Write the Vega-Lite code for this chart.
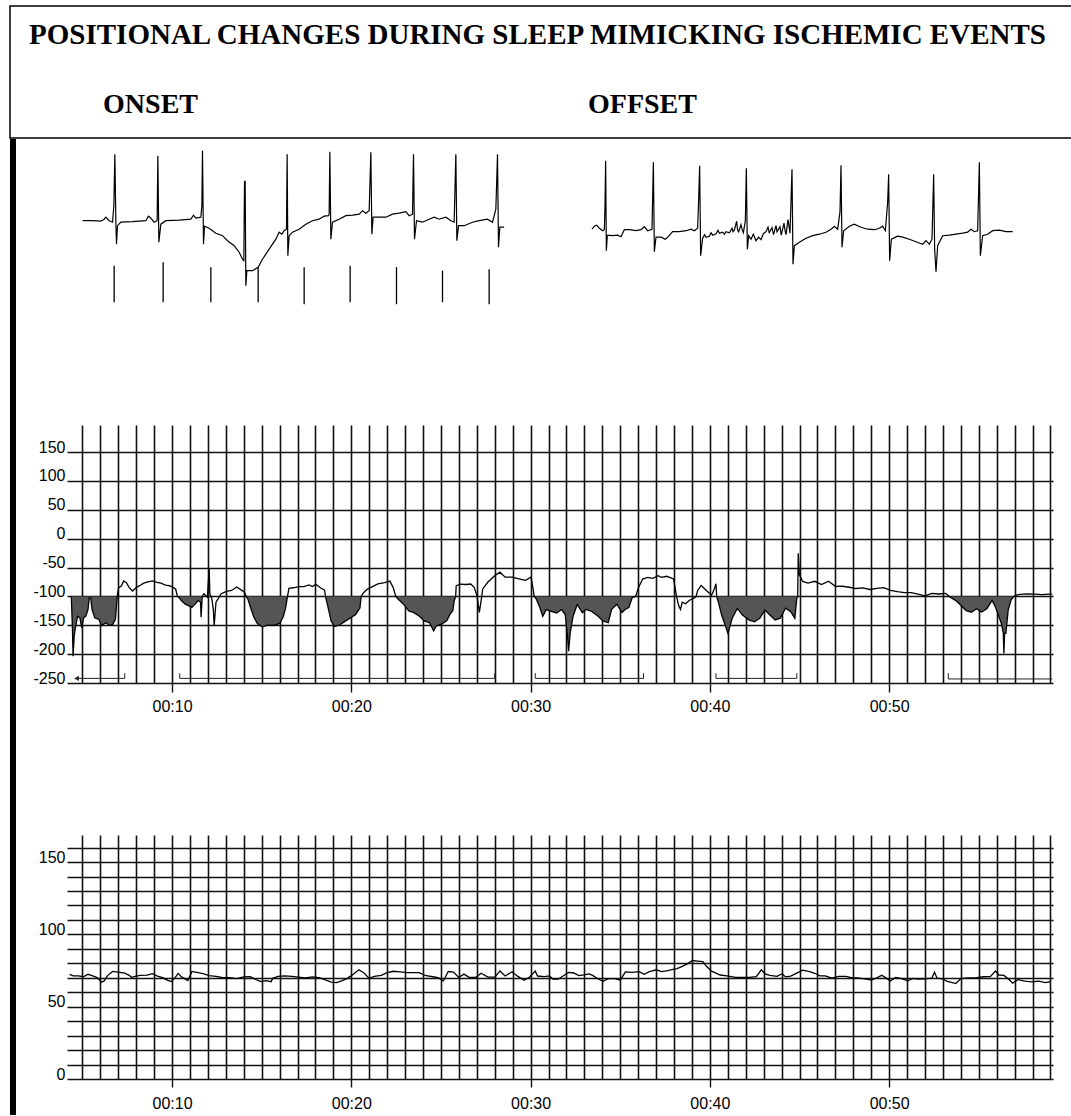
{
  "$schema": "https://vega.github.io/schema/vega-lite/v6.json",
  "padding": {"left": 9, "top": 5, "right": 0, "bottom": 0},
  "autosize": {"type": "pad"},
  "background": "white",
  "config": {"view": {"stroke": null}, "font": "Liberation Sans"},
  "datasets": {
    "header": [
      {"label": "POSITIONAL CHANGES DURING SLEEP MIMICKING ISCHEMIC EVENTS", "role": "title"},
      {"label": "ONSET", "role": "phase"},
      {"label": "OFFSET", "role": "phase"}
    ],
    "frame": [{"part": "left border"}],
    "ecgOnset": [
      {"t": 0.000, "mV": 0.00}, {"t": 0.200, "mV": 0.00}, {"t": 0.367, "mV": -0.01}, {"t": 0.433, "mV": 0.03}, {"t": 0.467, "mV": 0.07},
      {"t": 0.533, "mV": 0.00}, {"t": 0.600, "mV": -0.03}, {"t": 0.627, "mV": 0.30}, {"t": 0.647, "mV": 1.33}, {"t": 0.667, "mV": -0.03},
      {"t": 0.680, "mV": -0.47}, {"t": 0.700, "mV": -0.10}, {"t": 0.767, "mV": -0.03}, {"t": 1.000, "mV": -0.02}, {"t": 1.267, "mV": 0.00},
      {"t": 1.320, "mV": 0.09}, {"t": 1.367, "mV": 0.05}, {"t": 1.433, "mV": -0.03}, {"t": 1.493, "mV": 0.00}, {"t": 1.507, "mV": 1.30},
      {"t": 1.527, "mV": -0.43}, {"t": 1.567, "mV": -0.07}, {"t": 1.667, "mV": 0.00}, {"t": 1.933, "mV": 0.01}, {"t": 2.167, "mV": 0.03},
      {"t": 2.220, "mV": 0.11}, {"t": 2.267, "mV": 0.05}, {"t": 2.367, "mV": 0.07}, {"t": 2.387, "mV": 0.30}, {"t": 2.400, "mV": 1.40},
      {"t": 2.420, "mV": -0.47}, {"t": 2.440, "mV": -0.11}, {"t": 2.533, "mV": -0.15}, {"t": 2.667, "mV": -0.25}, {"t": 2.800, "mV": -0.30},
      {"t": 2.900, "mV": -0.40}, {"t": 3.033, "mV": -0.50}, {"t": 3.133, "mV": -0.63}, {"t": 3.200, "mV": -0.77}, {"t": 3.227, "mV": -0.80},
      {"t": 3.240, "mV": 0.77}, {"t": 3.253, "mV": 0.80}, {"t": 3.267, "mV": -1.30}, {"t": 3.287, "mV": -1.00}, {"t": 3.400, "mV": -1.00},
      {"t": 3.513, "mV": -0.93}, {"t": 3.600, "mV": -0.77}, {"t": 3.733, "mV": -0.57}, {"t": 3.867, "mV": -0.37}, {"t": 3.933, "mV": -0.23},
      {"t": 3.987, "mV": -0.27}, {"t": 4.033, "mV": -0.20}, {"t": 4.080, "mV": -0.17}, {"t": 4.093, "mV": 1.33}, {"t": 4.107, "mV": -0.70},
      {"t": 4.133, "mV": -0.30}, {"t": 4.200, "mV": -0.23}, {"t": 4.333, "mV": -0.17}, {"t": 4.467, "mV": -0.07}, {"t": 4.600, "mV": 0.00},
      {"t": 4.733, "mV": 0.03}, {"t": 4.833, "mV": 0.09}, {"t": 4.920, "mV": 0.10}, {"t": 4.933, "mV": 0.13}, {"t": 4.947, "mV": 1.38},
      {"t": 4.967, "mV": -0.37}, {"t": 5.000, "mV": -0.03}, {"t": 5.133, "mV": 0.03}, {"t": 5.267, "mV": 0.10}, {"t": 5.400, "mV": 0.11},
      {"t": 5.533, "mV": 0.13}, {"t": 5.600, "mV": 0.20}, {"t": 5.667, "mV": 0.15}, {"t": 5.733, "mV": 0.20}, {"t": 5.767, "mV": 1.37},
      {"t": 5.787, "mV": -0.27}, {"t": 5.813, "mV": 0.07}, {"t": 5.933, "mV": 0.07}, {"t": 6.067, "mV": 0.07}, {"t": 6.200, "mV": 0.13},
      {"t": 6.333, "mV": 0.15}, {"t": 6.467, "mV": 0.18}, {"t": 6.533, "mV": 0.10}, {"t": 6.600, "mV": 0.13}, {"t": 6.620, "mV": 1.33},
      {"t": 6.640, "mV": -0.37}, {"t": 6.680, "mV": 0.00}, {"t": 6.800, "mV": -0.03}, {"t": 6.933, "mV": 0.03}, {"t": 7.033, "mV": 0.07},
      {"t": 7.133, "mV": 0.03}, {"t": 7.267, "mV": 0.07}, {"t": 7.367, "mV": 0.00}, {"t": 7.433, "mV": -0.03}, {"t": 7.467, "mV": 1.33},
      {"t": 7.487, "mV": -0.40}, {"t": 7.520, "mV": -0.10}, {"t": 7.633, "mV": -0.10}, {"t": 7.800, "mV": -0.03}, {"t": 7.933, "mV": 0.00},
      {"t": 8.100, "mV": 0.03}, {"t": 8.200, "mV": -0.03}, {"t": 8.267, "mV": 0.23}, {"t": 8.300, "mV": 1.33}, {"t": 8.320, "mV": -0.53},
      {"t": 8.347, "mV": -0.13}, {"t": 8.433, "mV": -0.13}
    ],
    "markers": [
      {"t": 0.633, "top": -0.90, "bottom": -1.63}, {"t": 1.613, "top": -0.83, "bottom": -1.63}, {"t": 2.567, "top": -0.93, "bottom": -1.63},
      {"t": 3.513, "top": -0.93, "bottom": -1.63}, {"t": 4.433, "top": -0.93, "bottom": -1.67}, {"t": 5.353, "top": -0.90, "bottom": -1.63},
      {"t": 6.280, "top": -0.93, "bottom": -1.67}, {"t": 7.200, "top": -1.00, "bottom": -1.63}, {"t": 8.133, "top": -0.97, "bottom": -1.67}
    ],
    "ecgOffset": [
      {"t": 0.000, "mV": 0.03}, {"t": 0.047, "mV": 0.09}, {"t": 0.093, "mV": 0.11}, {"t": 0.147, "mV": 0.05}, {"t": 0.213, "mV": 0.00},
      {"t": 0.247, "mV": 0.02}, {"t": 0.260, "mV": 0.50}, {"t": 0.273, "mV": 1.40}, {"t": 0.287, "mV": -0.40}, {"t": 0.307, "mV": -0.09},
      {"t": 0.413, "mV": -0.10}, {"t": 0.513, "mV": -0.09}, {"t": 0.580, "mV": -0.12}, {"t": 0.647, "mV": 0.02}, {"t": 0.747, "mV": 0.02},
      {"t": 0.880, "mV": 0.00}, {"t": 0.980, "mV": 0.02}, {"t": 1.047, "mV": 0.08}, {"t": 1.113, "mV": 0.00}, {"t": 1.200, "mV": 0.03},
      {"t": 1.227, "mV": 1.37}, {"t": 1.247, "mV": -0.42}, {"t": 1.280, "mV": -0.13}, {"t": 1.380, "mV": -0.13}, {"t": 1.467, "mV": -0.17},
      {"t": 1.533, "mV": -0.11}, {"t": 1.613, "mV": -0.02}, {"t": 1.747, "mV": -0.02}, {"t": 1.880, "mV": 0.00}, {"t": 1.980, "mV": 0.03},
      {"t": 2.047, "mV": 0.00}, {"t": 2.113, "mV": 0.05}, {"t": 2.133, "mV": 0.63}, {"t": 2.153, "mV": 1.30}, {"t": 2.173, "mV": -0.50},
      {"t": 2.213, "mV": -0.15}, {"t": 2.250, "mV": -0.08}, {"t": 2.280, "mV": -0.13}, {"t": 2.347, "mV": -0.11}, {"t": 2.380, "mV": -0.04},
      {"t": 2.413, "mV": -0.09}, {"t": 2.480, "mV": -0.06}, {"t": 2.520, "mV": 0.01}, {"t": 2.547, "mV": -0.05}, {"t": 2.613, "mV": -0.03},
      {"t": 2.650, "mV": -0.07}, {"t": 2.680, "mV": -0.02}, {"t": 2.747, "mV": -0.04}, {"t": 2.800, "mV": 0.05}, {"t": 2.820, "mV": -0.02},
      {"t": 2.847, "mV": 0.01}, {"t": 2.893, "mV": 0.19}, {"t": 2.910, "mV": 0.02}, {"t": 2.933, "mV": -0.02}, {"t": 2.980, "mV": 0.12},
      {"t": 3.000, "mV": 0.03}, {"t": 3.027, "mV": -0.04}, {"t": 3.067, "mV": 0.20}, {"t": 3.087, "mV": 1.25}, {"t": 3.107, "mV": -0.37},
      {"t": 3.133, "mV": -0.10}, {"t": 3.180, "mV": -0.17}, {"t": 3.227, "mV": -0.07}, {"t": 3.280, "mV": -0.20}, {"t": 3.333, "mV": -0.13},
      {"t": 3.380, "mV": -0.18}, {"t": 3.427, "mV": -0.06}, {"t": 3.480, "mV": -0.02}, {"t": 3.520, "mV": 0.07}, {"t": 3.545, "mV": -0.04},
      {"t": 3.600, "mV": 0.06}, {"t": 3.630, "mV": -0.08}, {"t": 3.680, "mV": 0.10}, {"t": 3.700, "mV": -0.02}, {"t": 3.760, "mV": 0.08},
      {"t": 3.785, "mV": -0.09}, {"t": 3.840, "mV": 0.15}, {"t": 3.860, "mV": 0.01}, {"t": 3.880, "mV": -0.08}, {"t": 3.920, "mV": 0.22},
      {"t": 3.960, "mV": -0.05}, {"t": 4.000, "mV": 1.23}, {"t": 4.020, "mV": -0.67},
      {"t": 4.047, "mV": -0.30}, {"t": 4.147, "mV": -0.23}, {"t": 4.280, "mV": -0.15}, {"t": 4.413, "mV": -0.10}, {"t": 4.547, "mV": -0.07},
      {"t": 4.680, "mV": -0.03}, {"t": 4.780, "mV": 0.03}, {"t": 4.847, "mV": 0.09}, {"t": 4.913, "mV": 0.03}, {"t": 4.960, "mV": 0.37},
      {"t": 4.980, "mV": 1.31}, {"t": 5.000, "mV": -0.33}, {"t": 5.033, "mV": 0.00}, {"t": 5.147, "mV": 0.09}, {"t": 5.247, "mV": 0.13},
      {"t": 5.380, "mV": 0.07}, {"t": 5.513, "mV": 0.03}, {"t": 5.647, "mV": 0.02}, {"t": 5.747, "mV": 0.05}, {"t": 5.813, "mV": 0.09},
      {"t": 5.867, "mV": 0.00}, {"t": 5.913, "mV": 0.57}, {"t": 5.933, "mV": 1.13}, {"t": 5.953, "mV": -0.60}, {"t": 5.987, "mV": -0.17},
      {"t": 6.113, "mV": -0.11}, {"t": 6.213, "mV": -0.13}, {"t": 6.347, "mV": -0.17}, {"t": 6.480, "mV": -0.22}, {"t": 6.613, "mV": -0.27},
      {"t": 6.680, "mV": -0.20}, {"t": 6.747, "mV": -0.27}, {"t": 6.800, "mV": -0.17}, {"t": 6.833, "mV": 1.13}, {"t": 6.853, "mV": -0.37},
      {"t": 6.880, "mV": -0.82}, {"t": 6.913, "mV": -0.30}, {"t": 7.013, "mV": -0.10}, {"t": 7.147, "mV": -0.09}, {"t": 7.280, "mV": -0.07},
      {"t": 7.413, "mV": -0.05}, {"t": 7.513, "mV": -0.03}, {"t": 7.580, "mV": 0.03}, {"t": 7.647, "mV": -0.02}, {"t": 7.713, "mV": 0.00},
      {"t": 7.747, "mV": 1.37}, {"t": 7.767, "mV": -0.50}, {"t": 7.813, "mV": -0.10}, {"t": 7.913, "mV": -0.07}, {"t": 8.013, "mV": 0.00},
      {"t": 8.147, "mV": 0.01}, {"t": 8.280, "mV": -0.02}, {"t": 8.413, "mV": -0.02}
    ],
    "st": [
      {"m": 4.38, "v": -100, "episode": 1}, {"m": 4.44, "v": -151.8, "episode": 1}, {"m": 4.48, "v": -203.7, "episode": 1}, {"m": 4.54, "v": -169.0, "episode": 1},
      {"m": 4.62, "v": -151.7, "episode": 1}, {"m": 4.73, "v": -134.4, "episode": 1}, {"m": 4.86, "v": -137.3, "episode": 1}, {"m": 4.96, "v": -154.6, "episode": 1},
      {"m": 5.06, "v": -137.3, "episode": 1}, {"m": 5.19, "v": -134.3, "episode": 1}, {"m": 5.31, "v": -122.7, "episode": 1}, {"m": 5.38, "v": -102.5, "episode": 1},
      {"m": 5.46, "v": -102.5, "episode": 1}, {"m": 5.54, "v": -122.7, "episode": 1}, {"m": 5.69, "v": -137.1, "episode": 1}, {"m": 5.92, "v": -139.9, "episode": 1},
      {"m": 6.07, "v": -150.3, "episode": 1}, {"m": 6.31, "v": -145.6, "episode": 1}, {"m": 6.50, "v": -150.2, "episode": 1}, {"m": 6.69, "v": -148.5, "episode": 1},
      {"m": 6.84, "v": -139.7, "episode": 1}, {"m": 6.94, "v": -100, "episode": 1},
      {"m": 7.02, "v": -84.9}, {"m": 7.17, "v": -82.0}, {"m": 7.30, "v": -73.3}, {"m": 7.46, "v": -76.1}, {"m": 7.61, "v": -84.8}, {"m": 7.80, "v": -90.6},
      {"m": 8.00, "v": -84.7}, {"m": 8.23, "v": -80.7}, {"m": 8.42, "v": -77.1}, {"m": 8.65, "v": -74.8}, {"m": 8.90, "v": -73.1}, {"m": 9.15, "v": -75.8},
      {"m": 9.38, "v": -77.0}, {"m": 9.63, "v": -80.4}, {"m": 9.86, "v": -81.5}, {"m": 10.05, "v": -84.4}, {"m": 10.20, "v": -87.2},
      {"m": 10.30, "v": -100, "episode": 2}, {"m": 10.38, "v": -101.6, "episode": 2}, {"m": 10.53, "v": -107.4, "episode": 2}, {"m": 10.72, "v": -113.0, "episode": 2},
      {"m": 10.91, "v": -115.9, "episode": 2}, {"m": 11.11, "v": -118.7, "episode": 2}, {"m": 11.30, "v": -112.9, "episode": 2}, {"m": 11.45, "v": -107.2, "episode": 2},
      {"m": 11.59, "v": -110.1, "episode": 2}, {"m": 11.62, "v": -136.1, "episode": 2}, {"m": 11.68, "v": -100, "episode": 2},
      {"m": 11.78, "v": -95.5}, {"m": 11.87, "v": -98.4}, {"m": 11.97, "v": -101.3}, {"m": 12.07, "v": -52.3}, {"m": 12.11, "v": -95.5}, {"m": 12.22, "v": -104.2},
      {"m": 12.30, "v": -121.5}, {"m": 12.35, "v": -150.3}, {"m": 12.45, "v": -109.9}, {"m": 12.57, "v": -104.1}, {"m": 12.74, "v": -95.4}, {"m": 13.03, "v": -91.3},
      {"m": 13.32, "v": -89.6}, {"m": 13.60, "v": -83.7}, {"m": 13.89, "v": -89.5}, {"m": 14.03, "v": -92.3},
      {"m": 14.14, "v": -100, "episode": 3}, {"m": 14.22, "v": -103.8, "episode": 3}, {"m": 14.37, "v": -118.2, "episode": 3}, {"m": 14.56, "v": -135.5, "episode": 3},
      {"m": 14.76, "v": -147.0, "episode": 3}, {"m": 15.04, "v": -152.8, "episode": 3}, {"m": 15.33, "v": -149.8, "episode": 3}, {"m": 15.72, "v": -149.7, "episode": 3},
      {"m": 16.00, "v": -146.8, "episode": 3}, {"m": 16.20, "v": -135.2, "episode": 3}, {"m": 16.33, "v": -120.7, "episode": 3}, {"m": 16.44, "v": -100, "episode": 3},
      {"m": 16.52, "v": -86.1}, {"m": 16.77, "v": -85.0}, {"m": 17.06, "v": -83.1}, {"m": 17.35, "v": -83.0}, {"m": 17.64, "v": -80.1}, {"m": 17.83, "v": -82.9},
      {"m": 18.02, "v": -78.9}, {"m": 18.31, "v": -85.8}, {"m": 18.50, "v": -88.6},
      {"m": 18.56, "v": -100, "episode": 4}, {"m": 18.69, "v": -117.4, "episode": 4}, {"m": 18.88, "v": -143.4, "episode": 4}, {"m": 19.08, "v": -152.0, "episode": 4},
      {"m": 19.36, "v": -149.1, "episode": 4}, {"m": 19.65, "v": -143.2, "episode": 4}, {"m": 19.94, "v": -137.4, "episode": 4}, {"m": 20.23, "v": -131.6, "episode": 4},
      {"m": 20.48, "v": -120.0, "episode": 4}, {"m": 20.55, "v": -100, "episode": 4},
      {"m": 20.67, "v": -94.0}, {"m": 20.86, "v": -88.2}, {"m": 21.09, "v": -84.3}, {"m": 21.48, "v": -78.3}, {"m": 21.86, "v": -76.1}, {"m": 22.15, "v": -73.5},
      {"m": 22.34, "v": -85.0},
      {"m": 22.48, "v": -100, "episode": 5}, {"m": 22.63, "v": -105.2, "episode": 5}, {"m": 22.92, "v": -113.7, "episode": 5}, {"m": 23.21, "v": -125.3, "episode": 5},
      {"m": 23.49, "v": -128.1, "episode": 5}, {"m": 23.78, "v": -133.9, "episode": 5}, {"m": 24.07, "v": -142.4, "episode": 5}, {"m": 24.36, "v": -145.3, "episode": 5},
      {"m": 24.59, "v": -159.6, "episode": 5}, {"m": 24.74, "v": -151.0, "episode": 5}, {"m": 25.03, "v": -148.1, "episode": 5}, {"m": 25.32, "v": -142.2, "episode": 5},
      {"m": 25.51, "v": -130.7, "episode": 5}, {"m": 25.66, "v": -124.8, "episode": 5}, {"m": 25.74, "v": -107.5, "episode": 5}, {"m": 25.82, "v": -100, "episode": 5},
      {"m": 25.85, "v": -81.5}, {"m": 26.09, "v": -78.6}, {"m": 26.37, "v": -79.3}, {"m": 26.66, "v": -78.5}, {"m": 26.85, "v": -84.2}, {"m": 27.01, "v": -98.6},
      {"m": 27.14, "v": -127.5}, {"m": 27.24, "v": -107.3}, {"m": 27.33, "v": -87.0}, {"m": 27.62, "v": -75.1}, {"m": 28.01, "v": -63.8}, {"m": 28.29, "v": -58.0},
      {"m": 28.58, "v": -66.6}, {"m": 28.97, "v": -66.5}, {"m": 29.35, "v": -69.4}, {"m": 29.73, "v": -72.1}, {"m": 30.02, "v": -66.4}, {"m": 30.12, "v": -83.6},
      {"m": 30.20, "v": -100, "episode": 6}, {"m": 30.29, "v": -102.8, "episode": 6}, {"m": 30.49, "v": -117.2, "episode": 6}, {"m": 30.68, "v": -134.6, "episode": 6},
      {"m": 30.87, "v": -122.9, "episode": 6}, {"m": 31.16, "v": -125.8, "episode": 6}, {"m": 31.45, "v": -128.6, "episode": 6}, {"m": 31.73, "v": -122.8, "episode": 6},
      {"m": 31.93, "v": -131.4, "episode": 6}, {"m": 32.06, "v": -168.9, "episode": 6}, {"m": 32.12, "v": -194.9, "episode": 6}, {"m": 32.21, "v": -163.1, "episode": 6},
      {"m": 32.37, "v": -134.3, "episode": 6}, {"m": 32.60, "v": -113.9, "episode": 6}, {"m": 32.89, "v": -128.4, "episode": 6}, {"m": 33.08, "v": -122.5, "episode": 6},
      {"m": 33.37, "v": -125.4, "episode": 6}, {"m": 33.75, "v": -134.0, "episode": 6}, {"m": 34.04, "v": -142.6, "episode": 6}, {"m": 34.33, "v": -145.4, "episode": 6},
      {"m": 34.52, "v": -122.3, "episode": 6}, {"m": 34.81, "v": -113.5, "episode": 6}, {"m": 35.10, "v": -128.0, "episode": 6}, {"m": 35.29, "v": -122.1, "episode": 6},
      {"m": 35.48, "v": -119.2, "episode": 6}, {"m": 35.67, "v": -101.9, "episode": 6}, {"m": 35.86, "v": -100, "episode": 6},
      {"m": 36.02, "v": -84.5}, {"m": 36.25, "v": -70.0}, {"m": 36.54, "v": -67.1}, {"m": 36.82, "v": -68.8}, {"m": 37.11, "v": -64.1}, {"m": 37.30, "v": -67.0},
      {"m": 37.59, "v": -65.1}, {"m": 37.98, "v": -69.6}, {"m": 38.13, "v": -98.5}, {"m": 38.26, "v": -115.8}, {"m": 38.36, "v": -122.8}, {"m": 38.46, "v": -110.1},
      {"m": 38.65, "v": -112.8}, {"m": 38.84, "v": -107.1}, {"m": 39.03, "v": -104.2}, {"m": 39.22, "v": -101.2}, {"m": 39.32, "v": -89.7}, {"m": 39.51, "v": -81.0},
      {"m": 39.70, "v": -86.7}, {"m": 39.90, "v": -92.5}, {"m": 40.09, "v": -98.2}, {"m": 40.22, "v": -89.5}, {"m": 40.34, "v": -77.9},
      {"m": 40.38, "v": -100, "episode": 7}, {"m": 40.47, "v": -109.6, "episode": 7}, {"m": 40.66, "v": -132.7, "episode": 7}, {"m": 40.86, "v": -150.0, "episode": 7},
      {"m": 41.01, "v": -164.3, "episode": 7}, {"m": 41.24, "v": -138.2, "episode": 7}, {"m": 41.53, "v": -120.8, "episode": 7}, {"m": 41.82, "v": -132.4, "episode": 7},
      {"m": 42.20, "v": -141.1, "episode": 7}, {"m": 42.49, "v": -143.9, "episode": 7}, {"m": 42.78, "v": -138.0, "episode": 7}, {"m": 43.07, "v": -123.5, "episode": 7},
      {"m": 43.35, "v": -132.2, "episode": 7}, {"m": 43.64, "v": -140.8, "episode": 7}, {"m": 43.93, "v": -137.8, "episode": 7}, {"m": 44.22, "v": -120.5, "episode": 7},
      {"m": 44.51, "v": -126.3, "episode": 7}, {"m": 44.74, "v": -137.7, "episode": 7}, {"m": 44.85, "v": -103.1, "episode": 7}, {"m": 44.90, "v": -100, "episode": 7},
      {"m": 44.93, "v": -25.1}, {"m": 44.99, "v": -62.7}, {"m": 45.18, "v": -74.1}, {"m": 45.47, "v": -76.8}, {"m": 45.85, "v": -73.8}, {"m": 46.23, "v": -79.6},
      {"m": 46.62, "v": -73.7}, {"m": 47.00, "v": -82.5}, {"m": 47.39, "v": -82.4}, {"m": 47.77, "v": -84.1}, {"m": 48.15, "v": -86.3}, {"m": 48.54, "v": -85.1},
      {"m": 48.92, "v": -88.0}, {"m": 49.31, "v": -86.1}, {"m": 49.69, "v": -84.9}, {"m": 50.08, "v": -89.5}, {"m": 50.46, "v": -91.7}, {"m": 50.84, "v": -93.3},
      {"m": 51.23, "v": -93.3}, {"m": 51.61, "v": -96.1}, {"m": 52.00, "v": -98.9}, {"m": 52.38, "v": -94.8}, {"m": 52.76, "v": -95.8}, {"m": 53.15, "v": -94.7},
      {"m": 53.35, "v": -100, "episode": 8}, {"m": 53.72, "v": -107.3, "episode": 8}, {"m": 54.01, "v": -115.8, "episode": 8}, {"m": 54.30, "v": -124.5, "episode": 8},
      {"m": 54.59, "v": -127.3, "episode": 8}, {"m": 54.88, "v": -121.4, "episode": 8}, {"m": 55.16, "v": -127.1, "episode": 8}, {"m": 55.45, "v": -121.3, "episode": 8},
      {"m": 55.74, "v": -106.8, "episode": 8}, {"m": 55.93, "v": -118.2, "episode": 8}, {"m": 56.13, "v": -135.4, "episode": 8}, {"m": 56.26, "v": -146.9, "episode": 8},
      {"m": 56.37, "v": -164.2, "episode": 8}, {"m": 56.40, "v": -198.8, "episode": 8}, {"m": 56.44, "v": -164.0, "episode": 8}, {"m": 56.51, "v": -164.1, "episode": 8},
      {"m": 56.64, "v": -123.7, "episode": 8}, {"m": 56.80, "v": -106.4, "episode": 8}, {"m": 56.95, "v": -100, "episode": 8},
      {"m": 57.18, "v": -97.0}, {"m": 57.47, "v": -96.0}, {"m": 57.76, "v": -95.5}, {"m": 58.14, "v": -96.0}, {"m": 58.53, "v": -97.0}, {"m": 58.91, "v": -96.0},
      {"m": 59.10, "v": -96.0}
    ],
    "brackets": [
      {"b": 1, "step": 0, "m": 4.67, "v": -242}, {"b": 1, "step": 1, "m": 7.36, "v": -242}, {"b": 1, "step": 2, "m": 7.36, "v": -233},
      {"b": 2, "step": 0, "m": 10.43, "v": -233}, {"b": 2, "step": 1, "m": 10.43, "v": -242}, {"b": 2, "step": 2, "m": 28.0, "v": -242}, {"b": 2, "step": 3, "m": 28.0, "v": -233},
      {"b": 3, "step": 0, "m": 30.26, "v": -233}, {"b": 3, "step": 1, "m": 30.26, "v": -242}, {"b": 3, "step": 2, "m": 36.3, "v": -242}, {"b": 3, "step": 3, "m": 36.3, "v": -233},
      {"b": 4, "step": 0, "m": 40.34, "v": -233}, {"b": 4, "step": 1, "m": 40.34, "v": -242}, {"b": 4, "step": 2, "m": 44.85, "v": -242}, {"b": 4, "step": 3, "m": 44.85, "v": -233},
      {"b": 5, "step": 0, "m": 53.3, "v": -233}, {"b": 5, "step": 1, "m": 53.3, "v": -243}, {"b": 5, "step": 2, "m": 59.1, "v": -243}
    ],
    "hr": [
      {"m": 4.29, "bpm": 72.3}, {"m": 4.48, "bpm": 71.3}, {"m": 4.77, "bpm": 71.3}, {"m": 5.06, "bpm": 70.7}, {"m": 5.31, "bpm": 72.4}, {"m": 5.54, "bpm": 71.4},
      {"m": 5.82, "bpm": 70.1}, {"m": 6.07, "bpm": 66.9}, {"m": 6.21, "bpm": 67.8}, {"m": 6.40, "bpm": 71.5}, {"m": 6.69, "bpm": 74.4}, {"m": 6.98, "bpm": 73.9},
      {"m": 7.36, "bpm": 73.2}, {"m": 7.61, "bpm": 71.7}, {"m": 7.74, "bpm": 70.3}, {"m": 7.94, "bpm": 71.0}, {"m": 8.22, "bpm": 71.7}, {"m": 8.61, "bpm": 71.8},
      {"m": 8.90, "bpm": 72.8}, {"m": 9.19, "bpm": 71.2}, {"m": 9.47, "bpm": 70.1}, {"m": 9.76, "bpm": 68.2}, {"m": 9.95, "bpm": 67.4}, {"m": 10.15, "bpm": 69.7},
      {"m": 10.34, "bpm": 73.0}, {"m": 10.53, "bpm": 70.6}, {"m": 10.88, "bpm": 68.0}, {"m": 11.11, "bpm": 74.4}, {"m": 11.39, "bpm": 73.7}, {"m": 11.78, "bpm": 72.7},
      {"m": 12.07, "bpm": 71.5}, {"m": 12.45, "bpm": 70.9}, {"m": 12.83, "bpm": 70.0}, {"m": 13.22, "bpm": 70.1}, {"m": 13.60, "bpm": 69.4}, {"m": 13.99, "bpm": 70.6},
      {"m": 14.37, "bpm": 70.7}, {"m": 14.66, "bpm": 68.8}, {"m": 14.95, "bpm": 67.3}, {"m": 15.24, "bpm": 68.0}, {"m": 15.52, "bpm": 67.3}, {"m": 15.62, "bpm": 69.6},
      {"m": 15.91, "bpm": 70.9}, {"m": 16.29, "bpm": 71.3}, {"m": 16.68, "bpm": 71.0}, {"m": 17.06, "bpm": 70.5}, {"m": 17.44, "bpm": 69.9}, {"m": 17.83, "bpm": 70.6},
      {"m": 18.21, "bpm": 70.0}, {"m": 18.59, "bpm": 68.4}, {"m": 18.88, "bpm": 67.0}, {"m": 19.17, "bpm": 66.6}, {"m": 19.46, "bpm": 67.8}, {"m": 19.75, "bpm": 69.4},
      {"m": 20.04, "bpm": 71.8}, {"m": 20.42, "bpm": 75.5}, {"m": 20.71, "bpm": 73.3}, {"m": 20.99, "bpm": 69.6}, {"m": 21.28, "bpm": 71.0}, {"m": 21.67, "bpm": 71.6},
      {"m": 21.96, "bpm": 73.4}, {"m": 22.34, "bpm": 74.5}, {"m": 22.72, "bpm": 74.0}, {"m": 23.11, "bpm": 73.5}, {"m": 23.49, "bpm": 73.6}, {"m": 23.78, "bpm": 73.6},
      {"m": 24.17, "bpm": 71.4}, {"m": 24.55, "bpm": 70.7}, {"m": 24.84, "bpm": 70.1}, {"m": 25.13, "bpm": 67.8}, {"m": 25.41, "bpm": 74.3}, {"m": 25.70, "bpm": 73.9},
      {"m": 25.99, "bpm": 70.2}, {"m": 26.28, "bpm": 72.5}, {"m": 26.57, "bpm": 70.3}, {"m": 26.95, "bpm": 70.3}, {"m": 27.24, "bpm": 73.1}, {"m": 27.62, "bpm": 70.4},
      {"m": 28.01, "bpm": 70.4}, {"m": 28.29, "bpm": 74.7}, {"m": 28.58, "bpm": 71.2}, {"m": 28.97, "bpm": 74.2}, {"m": 29.25, "bpm": 71.3}, {"m": 29.64, "bpm": 68.3},
      {"m": 29.93, "bpm": 70.3}, {"m": 30.26, "bpm": 74.6}, {"m": 30.39, "bpm": 71.2}, {"m": 30.77, "bpm": 70.8}, {"m": 31.06, "bpm": 71.3}, {"m": 31.25, "bpm": 69.0},
      {"m": 31.54, "bpm": 69.0}, {"m": 31.83, "bpm": 71.4}, {"m": 32.12, "bpm": 73.7}, {"m": 32.41, "bpm": 73.3}, {"m": 32.69, "bpm": 71.5}, {"m": 32.98, "bpm": 72.0},
      {"m": 33.27, "bpm": 72.7}, {"m": 33.46, "bpm": 71.6}, {"m": 33.75, "bpm": 69.3}, {"m": 34.04, "bpm": 67.5}, {"m": 34.33, "bpm": 69.4}, {"m": 34.71, "bpm": 69.4},
      {"m": 35.00, "bpm": 68.3}, {"m": 35.29, "bpm": 74.1}, {"m": 35.67, "bpm": 73.7}, {"m": 36.06, "bpm": 74.2}, {"m": 36.34, "bpm": 72.4}, {"m": 36.63, "bpm": 74.2},
      {"m": 37.02, "bpm": 75.5}, {"m": 37.30, "bpm": 74.3}, {"m": 37.59, "bpm": 74.8}, {"m": 37.88, "bpm": 75.6}, {"m": 38.17, "bpm": 76.3}, {"m": 38.46, "bpm": 77.9},
      {"m": 38.74, "bpm": 79.6}, {"m": 39.03, "bpm": 81.9}, {"m": 39.32, "bpm": 81.5}, {"m": 39.61, "bpm": 81.1}, {"m": 39.80, "bpm": 78.1}, {"m": 40.09, "bpm": 74.6},
      {"m": 40.28, "bpm": 73.5}, {"m": 40.57, "bpm": 71.9}, {"m": 40.95, "bpm": 71.3}, {"m": 41.43, "bpm": 70.2}, {"m": 41.82, "bpm": 70.3}, {"m": 42.20, "bpm": 70.3},
      {"m": 42.59, "bpm": 70.8}, {"m": 42.87, "bpm": 75.5}, {"m": 43.07, "bpm": 72.7}, {"m": 43.35, "bpm": 71.6}, {"m": 43.74, "bpm": 71.0}, {"m": 44.03, "bpm": 72.8},
      {"m": 44.22, "bpm": 70.6}, {"m": 44.51, "bpm": 71.1}, {"m": 44.79, "bpm": 72.9}, {"m": 45.18, "bpm": 75.3}, {"m": 45.56, "bpm": 74.2}, {"m": 45.85, "bpm": 73.1},
      {"m": 46.14, "bpm": 71.3}, {"m": 46.43, "bpm": 71.3}, {"m": 46.81, "bpm": 69.7}, {"m": 47.19, "bpm": 70.9}, {"m": 47.58, "bpm": 70.9}, {"m": 47.96, "bpm": 69.9},
      {"m": 48.25, "bpm": 69.9}, {"m": 48.63, "bpm": 69.2}, {"m": 49.02, "bpm": 68.4}, {"m": 49.31, "bpm": 70.0}, {"m": 49.59, "bpm": 71.7}, {"m": 49.88, "bpm": 69.4},
      {"m": 50.07, "bpm": 67.8}, {"m": 50.36, "bpm": 70.2}, {"m": 50.65, "bpm": 69.5}, {"m": 51.04, "bpm": 67.9}, {"m": 51.32, "bpm": 69.6}, {"m": 51.61, "bpm": 69.1},
      {"m": 52.00, "bpm": 69.2}, {"m": 52.38, "bpm": 69.7}, {"m": 52.53, "bpm": 73.9}, {"m": 52.67, "bpm": 69.7}, {"m": 52.96, "bpm": 69.3}, {"m": 53.24, "bpm": 67.5},
      {"m": 53.53, "bpm": 66.6}, {"m": 53.72, "bpm": 66.0}, {"m": 54.01, "bpm": 69.4}, {"m": 54.39, "bpm": 69.9}, {"m": 54.88, "bpm": 70.0}, {"m": 55.26, "bpm": 70.7},
      {"m": 55.64, "bpm": 70.8}, {"m": 55.93, "bpm": 74.7}, {"m": 56.12, "bpm": 71.9}, {"m": 56.41, "bpm": 71.6}, {"m": 56.70, "bpm": 68.6}, {"m": 56.89, "bpm": 66.3},
      {"m": 57.18, "bpm": 68.7}, {"m": 57.57, "bpm": 67.6}, {"m": 57.95, "bpm": 67.2}, {"m": 58.33, "bpm": 67.7}, {"m": 58.72, "bpm": 66.6}, {"m": 59.01, "bpm": 67.4}
    ]
  },
  "spacing": 0,
  "vconcat": [
    {
      "width": 1063,
      "height": 132,
      "view": {"stroke": "black", "strokeWidth": 1.5},
      "data": {"name": "header"},
      "layer": [
        {
          "transform": [{"filter": "datum.role === 'title'"}],
          "mark": {"type": "text", "font": "Liberation Serif", "fontSize": 29, "fontWeight": "bold", "baseline": "alphabetic", "color": "black", "dy": -28, "dx": -4},
          "encoding": {"text": {"field": "label", "type": "nominal"}}
        },
        {
          "transform": [{"filter": "datum.role === 'phase'"}],
          "mark": {"type": "text", "font": "Liberation Serif", "fontSize": 28, "fontWeight": "bold", "baseline": "alphabetic", "align": "center", "color": "black", "dy": 41},
          "encoding": {
            "x": {"field": "label", "type": "nominal", "scale": {"type": "point", "domain": ["ONSET", "OFFSET"], "padding": 0.5803, "align": 0.2461}, "axis": null},
            "text": {"field": "label", "type": "nominal"}
          }
        }
      ]
    },
    {
      "spacing": 16,
      "hconcat": [
        {
          "width": 6,
          "height": 976,
          "view": {"fill": "black", "stroke": null},
          "data": {"name": "frame"},
          "mark": {"type": "point", "opacity": 0},
          "encoding": {}
        },
        {
          "spacing": 120,
          "vconcat": [
            {
              "spacing": 20,
              "hconcat": [
                {
                  "width": 460,
                  "height": 165,
                  "layer": [
                    {
                      "data": {"name": "ecgOnset"},
                      "mark": {"type": "line", "color": "black", "strokeWidth": 1.2, "clip": true},
                      "encoding": {
                        "x": {"field": "t", "type": "quantitative", "scale": {"domain": [-0.31, 8.89], "nice": false, "zero": false}, "axis": null},
                        "y": {"field": "mV", "type": "quantitative", "scale": {"domain": [-1.666, 1.634], "nice": false, "zero": false}, "axis": null}
                      }
                    },
                    {
                      "data": {"name": "markers"},
                      "mark": {"type": "rule", "color": "black", "strokeWidth": 1.3},
                      "encoding": {
                        "x": {"field": "t", "type": "quantitative"},
                        "y": {"field": "top", "type": "quantitative"},
                        "y2": {"field": "bottom"}
                      }
                    }
                  ]
                },
                {
                  "width": 506,
                  "height": 165,
                  "data": {"name": "ecgOffset"},
                  "mark": {"type": "line", "color": "black", "strokeWidth": 1.2, "clip": true},
                  "encoding": {
                    "x": {"field": "t", "type": "quantitative", "scale": {"domain": [-0.9, 9.22], "nice": false, "zero": false}, "axis": null},
                    "y": {"field": "mV", "type": "quantitative", "scale": {"domain": [-1.466, 1.834], "nice": false, "zero": false}, "axis": null}
                  }
                }
              ]
            },
            {
              "width": 986,
              "height": 258,
              "encoding": {
                "x": {
                  "field": "m", "type": "quantitative",
                  "scale": {"domain": [4.14, 59.14], "nice": false, "zero": false},
                  "axis": {
                    "values": [5,6,7,8,9,10,11,12,13,14,15,16,17,18,19,20,21,22,23,24,25,26,27,28,29,30,31,32,33,34,35,36,37,38,39,40,41,42,43,44,45,46,47,48,49,50,51,52,53,54,55,56,57,58,59],
                    "grid": true, "gridColor": "#111111", "gridWidth": 1.6, "gridOpacity": 1,
                    "domain": false, "ticks": true, "tickColor": "#111111", "tickWidth": 1.4, "tickSize": 9,
                    "tickOpacity": {"condition": {"test": "datum.value % 10 === 0", "value": 1}, "value": 0},
                    "labelExpr": "datum.value % 10 === 0 ? '00:' + datum.value : ''",
                    "labelFont": "Liberation Sans", "labelFontSize": 16, "labelColor": "black", "labelPadding": 6,
                    "labelOverlap": false, "labelFlush": false, "title": null
                  }
                },
                "y": {
                  "field": "v", "type": "quantitative", "stack": null,
                  "scale": {"domain": [-250, 197], "nice": false, "zero": false},
                  "axis": {
                    "values": [-250, -200, -150, -100, -50, 0, 50, 100, 150],
                    "grid": true, "gridColor": "#111111", "gridWidth": 1.6, "gridOpacity": 1,
                    "domain": false, "ticks": false, "labelPadding": 2, "labelBaseline": "alphabetic",
                    "labelExpr": "'' + datum.value",
                    "labelFont": "Liberation Sans", "labelFontSize": 16, "labelColor": "black", "labelOverlap": false, "title": null
                  }
                }
              },
              "layer": [
                {
                  "data": {"name": "st"},
                  "transform": [{"filter": "isValid(datum.episode)"}],
                  "mark": {"type": "area", "color": "#555555", "clip": true},
                  "encoding": {
                    "y2": {"datum": -100},
                    "detail": {"field": "episode", "type": "nominal"}
                  }
                },
                {
                  "data": {"name": "st"},
                  "mark": {"type": "line", "color": "black", "strokeWidth": 1.3, "clip": true}
                },
                {
                  "data": {"name": "brackets"},
                  "mark": {"type": "line", "color": "#222222", "strokeWidth": 1},
                  "encoding": {
                    "detail": {"field": "b", "type": "nominal"},
                    "order": {"field": "step", "type": "quantitative"}
                  }
                },
                {
                  "data": {"name": "brackets"},
                  "transform": [{"filter": "datum.b === 1 && datum.step === 0"}],
                  "mark": {"type": "point", "shape": "triangle-left", "filled": true, "color": "#222222", "size": 30, "opacity": 1}
                }
              ]
            },
            {
              "width": 986,
              "height": 244,
              "data": {"name": "hr"},
              "mark": {"type": "line", "color": "black", "strokeWidth": 1.3, "clip": true},
              "encoding": {
                "x": {
                  "field": "m", "type": "quantitative",
                  "scale": {"domain": [4.14, 59.14], "nice": false, "zero": false},
                  "axis": {
                    "values": [5,6,7,8,9,10,11,12,13,14,15,16,17,18,19,20,21,22,23,24,25,26,27,28,29,30,31,32,33,34,35,36,37,38,39,40,41,42,43,44,45,46,47,48,49,50,51,52,53,54,55,56,57,58,59],
                    "grid": true, "gridColor": "#111111", "gridWidth": 1.6, "gridOpacity": 1,
                    "domain": false, "ticks": true, "tickColor": "#111111", "tickWidth": 1.4, "tickSize": 8,
                    "tickOpacity": {"condition": {"test": "datum.value % 10 === 0", "value": 1}, "value": 0},
                    "labelExpr": "datum.value % 10 === 0 ? '00:' + datum.value : ''",
                    "labelFont": "Liberation Sans", "labelFontSize": 16, "labelColor": "black", "labelPadding": 8,
                    "labelOverlap": false, "labelFlush": false, "title": null
                  }
                },
                "y": {
                  "field": "bpm", "type": "quantitative",
                  "scale": {"domain": [0, 168.7], "nice": false, "zero": false},
                  "axis": {
                    "values": [0, 10, 20, 30, 40, 50, 60, 70, 80, 90, 100, 110, 120, 130, 140, 150, 160],
                    "grid": true, "gridColor": "#111111", "gridWidth": 1.6, "gridOpacity": 1,
                    "domain": false, "ticks": false, "labelPadding": 2, "labelBaseline": "alphabetic",
                    "labelExpr": "datum.value % 50 === 0 ? datum.label : ''",
                    "labelFont": "Liberation Sans", "labelFontSize": 16, "labelColor": "black", "labelOverlap": false, "title": null
                  }
                }
              }
            }
          ]
        }
      ]
    }
  ]
}
